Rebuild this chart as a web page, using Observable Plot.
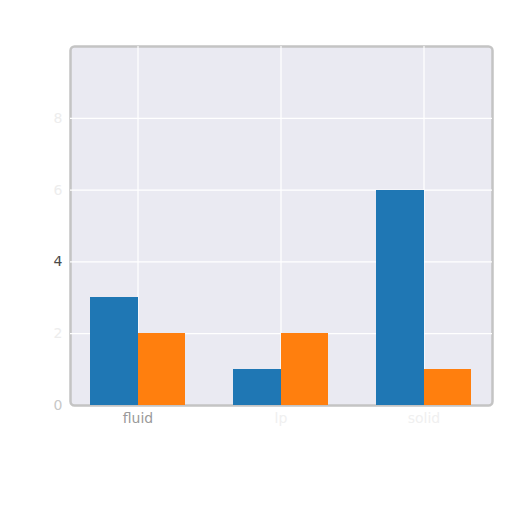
<!DOCTYPE html>
<html>
<head>
<meta charset="utf-8">
<script src="https://cdn.jsdelivr.net/npm/d3@7"></script>
<script src="https://cdn.jsdelivr.net/npm/@observablehq/plot@0.6"></script>
<style>
  html, body { margin: 0; padding: 0; background: #fff; }
  #chart { width: 512px; height: 512px; }
</style>
</head>
<body>
<div id="chart"></div>
<script>
const categories = ["fluid", "lp", "solid"];
const seriesA = [3, 1, 6];
const seriesB = [2, 2, 1];
const yTicks = [0, 2, 4, 6, 8];
const yTickColors = ["#c8c8c8", "#ededed", "#4a4a4a", "#ededed", "#ededed"];
const xTickColors = ["#9a9a9a", "#f0f0f0", "#f0f0f0"];
const colorA = "#1f77b4";
const colorB = "#ff7f0e";

const rowsA = categories.map((c, i) => ({cat: c, value: seriesA[i]}));
const rowsB = categories.map((c, i) => ({cat: c, value: seriesB[i]}));

const width = 512, height = 512;
const marginLeft = 70, marginRight = 20;
const paddingInner = 1/3, paddingOuter = 0.133;
const step = (width - marginLeft - marginRight) / (categories.length - paddingInner + 2 * paddingOuter);
const bw = step * (1 - paddingInner);

const chart = Plot.plot({
  width, height,
  marginLeft, marginRight, marginTop: 46, marginBottom: 107,
  x: {domain: categories, paddingInner, paddingOuter, axis: null, label: null},
  y: {domain: [0, 10], axis: null, label: null},
  marks: [
    Plot.frame({fill: "#eaeaf2", stroke: "#c4c4c4", strokeWidth: 2.5, rx: 4}),
    Plot.gridX({stroke: "#ffffff", strokeOpacity: 1, strokeWidth: 1.2}),
    Plot.gridY(yTicks.slice(1), {stroke: "#ffffff", strokeOpacity: 1, strokeWidth: 1.2}),
    Plot.barY(rowsA, {x: "cat", y: "value", fill: colorA, insetLeft: 0, insetRight: bw / 2 - 1, shapeRendering: "crispEdges"}),
    Plot.barY(rowsB, {x: "cat", y: "value", fill: colorB, insetLeft: bw / 2, insetRight: 0, shapeRendering: "crispEdges"}),
    Plot.axisY(yTicks, {label: null, tickSize: 0, tickPadding: 8, fontSize: 14, fill: d => yTickColors[yTicks.indexOf(d)], fontFamily: "DejaVu Sans"}),
    Plot.axisX(categories, {label: null, tickSize: 0, tickPadding: 8, fontSize: 14, fill: d => xTickColors[categories.indexOf(d)], fontFamily: "DejaVu Sans"})
  ]
});
document.getElementById("chart").appendChild(chart);
</script>
</body>
</html>
